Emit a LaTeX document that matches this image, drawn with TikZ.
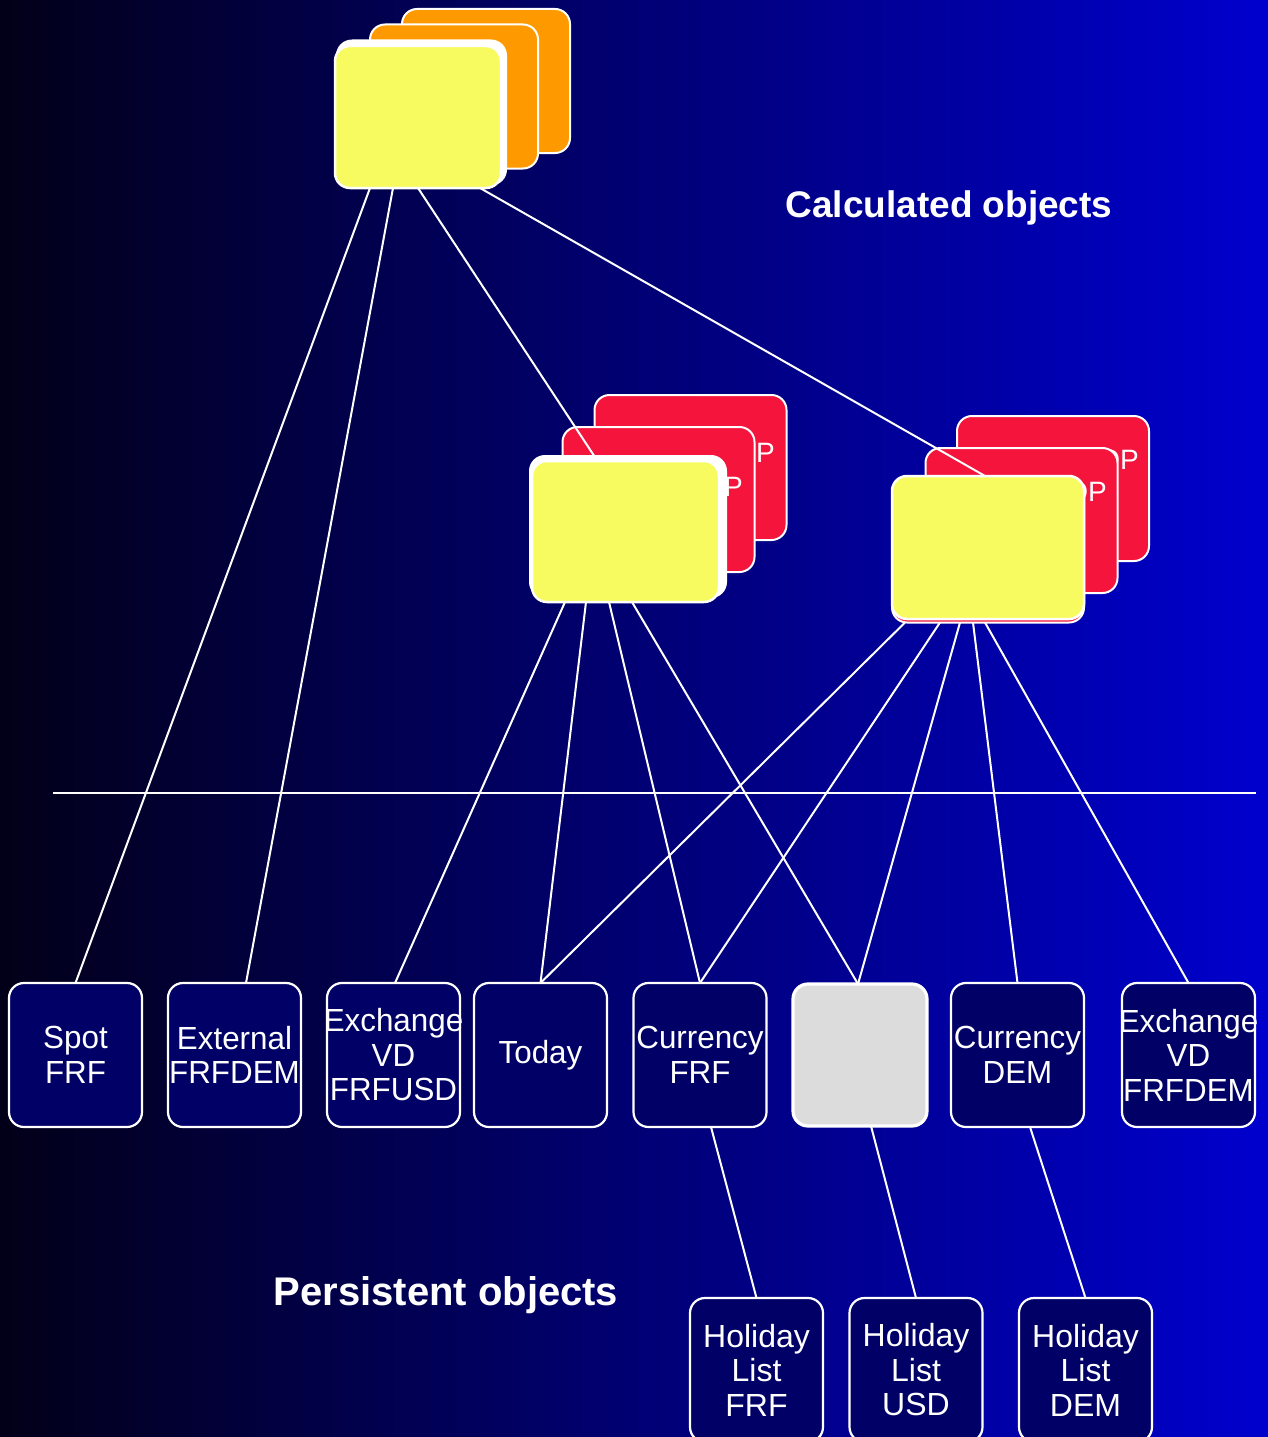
\documentclass[tikz,border=0pt]{standalone}
\usepackage{fontspec}
\setmainfont{Liberation Sans}
\usetikzlibrary{calc}
\definecolor{bgleft}{RGB}{2,0,24}
\definecolor{bgright}{RGB}{0,0,206}
\definecolor{navy}{RGB}{0,0,102}
\definecolor{lemon}{RGB}{248,251,96}
\definecolor{amber}{RGB}{255,153,0}
\definecolor{crimson}{RGB}{244,20,60}
\definecolor{pale}{RGB}{220,220,220}
% a centred line that may run past the box edge without widening the box
\newcommand\nar[1]{\makebox[0pt]{\scalebox{0.98}[1]{#1}}}
\pgfdeclarelayer{bg}
\pgfdeclarelayer{stack}
\pgfdeclarelayer{wires}
\pgfsetlayers{bg,stack,wires,main}

\begin{document}
\begin{tikzpicture}[x=1pt,y=-1pt,
  card/.style={draw=white, line width=2pt, rounded corners=15pt, inner sep=0pt, outer sep=0pt},
  frontcard/.style={card, fill=lemon, line width=2.5pt},
  backing/.style={fill=white, rounded corners=16pt, inner sep=0pt, outer sep=0pt},
  ambercard/.style={card, fill=amber, minimum width=168pt, minimum height=144pt},
  redcard/.style={card, fill=crimson, minimum width=192pt, minimum height=145pt},
  optext/.style={text=white, font=\fontsize{28}{30}\selectfont, inner sep=0pt, anchor=east},
  objbox/.style={card, fill=navy, text=white, line width=2.2pt, minimum width=133pt,
    minimum height=144pt, align=center, font=\fontsize{32}{34.5}\selectfont},
  wire/.style={white, line width=2pt},
  heading/.style={text=white, font=\fontsize{37}{40}\selectfont\bfseries, inner sep=0pt}]

\useasboundingbox (0,0) rectangle (1268,1437);
\begin{pgfonlayer}{bg}
  \shade[left color=bgleft, right color=bgright] (0,0) rectangle (1268,1437);
\end{pgfonlayer}

% Calculated objects: top stack
\begin{pgfonlayer}{stack}
  \node[ambercard] (calcB) at (486,81) {};
  \node[ambercard] (calcM) at (454,96.5) {};
  \node[backing, minimum width=171pt, minimum height=146pt] (calcW) at (421.5,112.5) {};

  % middle stack
  \node[redcard] (midB) at (690.5,467.5) {};
  \node[optext] (midBt) at (775,453) {OP};
  \node[redcard] (midM) at (658.5,499.5) {};
  \node[optext] (midMt) at (743,487) {OP};
  \node[backing, minimum width=198pt, minimum height=143pt] (midW) at (628,526.5) {};

  % right stack
  \node[redcard] (rgtB) at (1053,488.5) {};
  \node[optext] (rgtBt) at (1139,460) {OP};
  \node[redcard] (rgtM) at (1021.5,520.5) {};
  \node[optext] (rgtMt) at (1107,492) {OP};
  \node[card, fill=crimson, minimum width=192pt, minimum height=143pt] (rgtS) at (988,551) {};
\end{pgfonlayer}

\node[frontcard, minimum width=166pt, minimum height=142pt] (calc) at (418,117) {};
\node[frontcard, minimum width=187pt, minimum height=141pt] (mid) at (625.5,531.5) {};
\node[frontcard, minimum width=192pt, minimum height=143pt] (rgt) at (988,547.5) {};

% Persistent objects
\node[objbox] (spot)  at (75.5,1055)  {\nar{Spot}\\\nar{FRF}};
\node[objbox] (ext)   at (234.5,1055) {\nar{External}\\\nar{FRFDEM}};
\node[objbox] (exusd) at (393.5,1055) {\nar{Exchange}\\\nar{VD}\\\nar{FRFUSD}};
\node[objbox] (today) at (540.5,1055) {\nar{Today}};
\node[objbox] (cfrf)  at (700,1055)   {\nar{Currency}\\\nar{FRF}};
\node[card, fill=pale, line width=3.2pt, minimum width=134pt, minimum height=142pt] (cusd) at (860,1055) {};
\node[objbox] (cdem)  at (1017.5,1055) {\nar{Currency}\\\nar{DEM}};
\node[objbox] (exdem) at (1188.5,1055) {\nar{Exchange}\\\nar{VD}\\\nar{FRFDEM}};

\node[objbox] (hfrf) at (756.5,1370) {Holiday\\List\\FRF};
\node[objbox] (husd) at (916,1370)   {Holiday\\List\\USD};
\node[objbox] (hdem) at (1085.5,1370) {Holiday\\List\\DEM};

\node[heading] (calctitle) at (949,208) {Calculated objects};
\node[heading, font=\fontsize{40}{44}\selectfont\bfseries] (perstitle) at (446,1295) {Persistent objects};

\coordinate (divL) at (53,793);
\coordinate (divR) at (1256,793);

\begin{pgfonlayer}{wires}
  \draw[wire] (divL) -- (divR);
  % from the top calculated object
  \draw[wire] ([xshift=-48pt]calc.south) -- (spot.north);
  \draw[wire] ([xshift=-25pt]calc.south) -- ([xshift=11.5pt]ext.north);
  \draw[wire] (calc.south) -- ([xshift=-28pt]mid.north);
  \draw[wire] ([xshift=62pt]calc.south) -- ([xshift=-3pt]rgt.north);
  % from the middle calculated object
  \draw[wire] ([xshift=-60.5pt]mid.south) -- ([xshift=1.5pt]exusd.north);
  \draw[wire] ([xshift=-39.5pt]mid.south) -- (today.north);
  \draw[wire] ([xshift=-16.5pt]mid.south) -- (cfrf.north);
  \draw[wire] ([xshift=6.5pt]mid.south) -- ([xshift=-2pt]cusd.north);
  % from the right calculated object
  \draw[wire] ([xshift=-83pt]rgtS.south) -- (today.north);
  \draw[wire] ([xshift=-48pt]rgtS.south) -- (cfrf.north);
  \draw[wire] ([xshift=-28pt]rgtS.south) -- ([xshift=-2pt]cusd.north);
  \draw[wire] ([xshift=-15pt]rgtS.south) -- (cdem.north);
  \draw[wire] ([xshift=-3pt]rgtS.south) -- (exdem.north);
  % currencies to holiday lists
  \draw[wire] ([xshift=11pt]cfrf.south) -- (hfrf.north);
  \draw[wire] ([xshift=11pt]cusd.south) -- (husd.north);
  \draw[wire] ([xshift=12.5pt]cdem.south) -- (hdem.north);
\end{pgfonlayer}
\end{tikzpicture}
\end{document}
